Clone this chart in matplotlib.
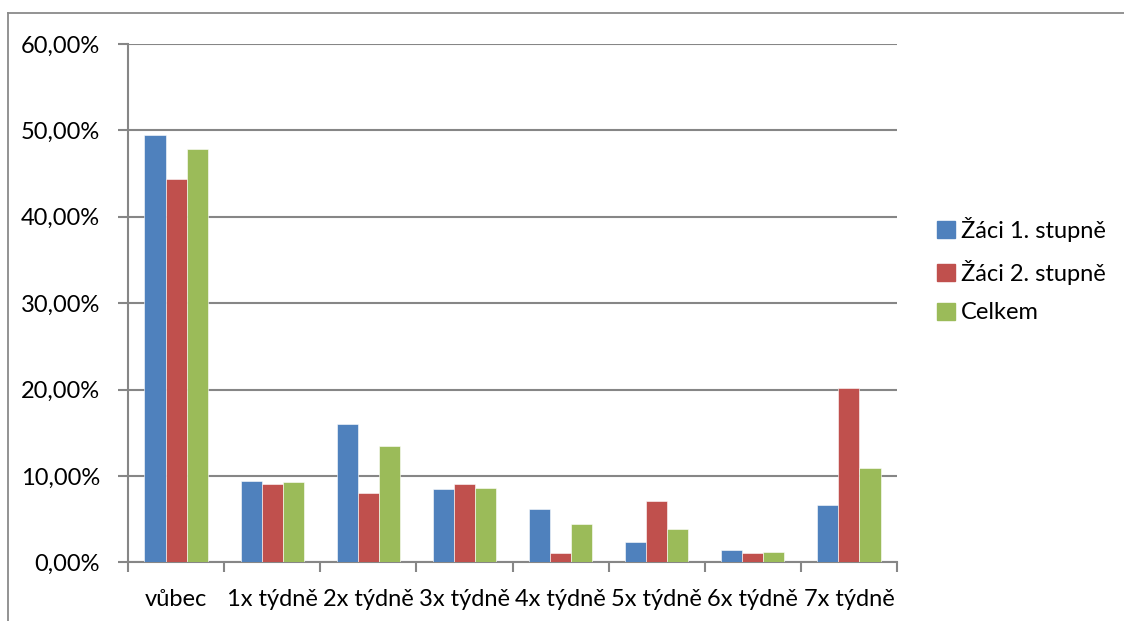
import matplotlib
matplotlib.use("Agg")
import matplotlib.pyplot as plt
import numpy as np
from matplotlib.lines import Line2D
from matplotlib.ticker import FuncFormatter

categories = ["vůbec", "1x týdně", "2x týdně", "3x týdně", "4x týdně", "5x týdně", "6x týdně", "7x týdně"]
zaci1 = [49.5, 9.4, 16.05, 8.46, 6.12, 2.34, 1.38, 6.58]
zaci2 = [44.4, 9.04, 8.0, 9.04, 1.04, 7.04, 1.04, 20.17]
celkem = [47.8, 9.27, 13.5, 8.6, 4.46, 3.8, 1.23, 10.9]
series_names = ["Žáci 1. stupně", "Žáci 2. stupně", "Celkem"]
colors = ["#4F81BD", "#C0504D", "#9BBB59"]

plt.rcParams['font.family'] = ['Lato', 'DejaVu Sans']

W, H = 1124, 621
fig = plt.figure(figsize=(W / 100, H / 100), dpi=100)
ax = fig.add_axes([128 / W, 1 - 562.3 / H, (897 - 128) / W, (562.3 - 44) / H])

x = np.arange(len(categories))
bw = 0.219
for i, (vals, name, c) in enumerate(zip([zaci1, zaci2, celkem], series_names, colors)):
    ax.bar(x + (i - 1) * bw, vals, width=bw, color=c, label=name, zorder=3,
           edgecolor='white', linewidth=0.4)

ax.set_xlim(-0.5, len(categories) - 0.5)
ax.set_ylim(0, 60)
ax.set_yticks(np.arange(0, 61, 10))
ax.yaxis.set_major_formatter(FuncFormatter(lambda v, p: f"{v:.2f}".replace('.', ',') + "%"))
ax.grid(axis='y', color='#868686', linewidth=1.5, zorder=0)
ax.set_axisbelow(True)

ax.set_xticks(x)
ax.set_xticklabels(categories)
ax.set_xticks(np.arange(-0.5, len(categories), 1), minor=True)
ax.tick_params(axis='x', which='major', length=0, pad=19, labelsize=17)
ax.tick_params(axis='x', which='minor', length=7, width=1.5, color='#868686', direction='out')
ax.tick_params(axis='y', length=7, width=1.5, color='#868686', pad=13, labelsize=17)

for s in ['top', 'right']:
    ax.spines[s].set_visible(False)
for s in ['left', 'bottom']:
    ax.spines[s].set_color('#868686')
    ax.spines[s].set_linewidth(1.5)

handles = [plt.Rectangle((0, 0), 1, 1, color=c) for c in colors]
fig.legend(handles, series_names, loc='upper left', bbox_to_anchor=(937 / W, 1 - 217 / H),
           frameon=False, fontsize=17, handlelength=0.75, handleheight=0.75,
           handletextpad=0.25, labelspacing=0.75, borderpad=0, borderaxespad=0)

# outer chart border (top and left visible)
fig.add_artist(Line2D([8 / W, 1.0], [1 - 12.5 / H, 1 - 12.5 / H], color='#8a8a8a', linewidth=1.3, transform=fig.transFigure))
fig.add_artist(Line2D([8 / W, 8 / W], [1 - 12.5 / H, 0], color='#8a8a8a', linewidth=1.3, transform=fig.transFigure))

fig.savefig("out.png", dpi=100)
